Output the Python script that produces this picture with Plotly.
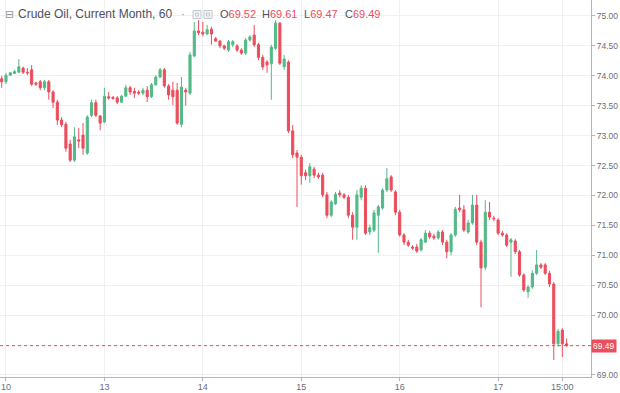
import plotly.graph_objects as go

# Hourly bars (index 0 = leftmost visible bar)
opens = [73.95, 73.90, 74.01, 74.04, 74.06, 74.13, 74.06, 74.10, 73.88, 73.90,
         73.80, 73.90, 73.73, 73.56, 73.26, 73.19, 72.86, 72.59, 72.93, 73.01,
         72.71, 73.34, 73.55, 73.33, 73.23, 73.65, 73.64, 73.63, 73.56, 73.66,
         73.80, 73.74, 73.73, 73.71, 73.76, 73.65, 73.85, 73.98, 74.10, 73.83,
         73.76, 73.76, 73.19, 73.76, 73.71, 74.33, 74.75, 74.73, 74.70, 74.78,
         74.62, 74.58, 74.50, 74.43, 74.52, 74.50, 74.43, 74.38, 74.60, 74.68,
         74.52, 74.31, 74.23, 74.20, 74.46, 74.88, 74.15, 74.23, 73.08, 72.71,
         72.64, 72.38, 72.33, 72.44, 72.34, 72.34, 72.01, 71.67, 71.86, 72.04,
         72.01, 71.97, 71.67, 71.47, 71.97, 72.12, 71.39, 71.42, 71.67, 71.79,
         72.09, 72.31, 72.06, 71.72, 71.34, 71.22, 71.14, 71.14, 71.09, 71.22,
         71.37, 71.32, 71.29, 71.39, 71.22, 71.06, 71.34, 71.79, 71.76, 71.39,
         71.54, 71.84, 71.22, 70.80, 71.72, 71.62, 71.59, 71.37, 71.34, 71.22,
         71.24, 71.06, 70.67, 70.39, 70.47, 70.70, 70.84, 70.84, 70.70, 70.52,
         69.52, 69.75, 69.52]
highs = [74.00, 74.05, 74.06, 74.10, 74.28, 74.15, 74.13, 74.18, 73.90, 73.93,
         73.93, 73.93, 73.76, 73.60, 73.31, 73.23, 72.93, 73.14, 73.13, 73.21,
         73.34, 73.60, 73.60, 73.34, 73.80, 73.73, 73.66, 73.66, 73.68, 73.85,
         73.83, 73.80, 73.76, 73.80, 73.83, 73.88, 74.01, 74.13, 74.13, 73.86,
         73.90, 73.88, 73.98, 73.80, 74.40, 74.90, 74.93, 74.90, 74.85, 74.82,
         74.65, 74.60, 74.52, 74.60, 74.60, 74.53, 74.46, 74.63, 74.68, 74.85,
         74.55, 74.35, 74.26, 74.52, 74.93, 74.90, 74.35, 74.26, 73.18, 72.76,
         72.68, 72.43, 72.54, 72.48, 72.38, 72.38, 72.06, 71.92, 72.06, 72.09,
         72.04, 72.01, 71.72, 72.09, 72.17, 72.17, 71.51, 71.76, 71.84, 72.12,
         72.46, 72.34, 72.09, 71.76, 71.37, 71.26, 71.17, 71.19, 71.29, 71.42,
         71.41, 71.36, 71.42, 71.42, 71.26, 71.37, 71.81, 72.01, 71.84, 71.59,
         72.01, 72.01, 71.26, 71.92, 71.89, 71.66, 71.62, 71.41, 71.37, 71.29,
         71.27, 71.09, 70.70, 70.50, 70.75, 71.09, 70.87, 70.87, 70.74, 70.55,
         69.77, 69.78, 69.61]
lows = [73.80, 73.86, 74.00, 74.03, 74.05, 74.03, 74.01, 73.83, 73.83, 73.76,
        73.76, 73.60, 73.46, 73.18, 73.14, 72.73, 72.56, 72.56, 72.79, 72.68,
        72.68, 73.31, 73.31, 73.09, 73.21, 73.60, 73.60, 73.53, 73.55, 73.65,
        73.68, 73.63, 73.68, 73.68, 73.56, 73.63, 73.83, 73.96, 73.80, 73.60,
        73.51, 73.18, 73.14, 73.50, 73.68, 74.31, 74.68, 74.66, 74.68, 74.52,
        74.57, 74.46, 74.43, 74.40, 74.48, 74.40, 74.35, 74.35, 74.57, 74.48,
        74.26, 74.10, 74.05, 73.60, 74.43, 74.18, 74.10, 73.04, 72.62, 71.81,
        72.18, 72.26, 72.21, 72.29, 72.28, 71.97, 71.62, 71.64, 71.84, 71.97,
        71.94, 71.62, 71.26, 71.26, 71.92, 71.34, 71.34, 71.39, 71.04, 71.76,
        72.06, 72.06, 71.67, 71.31, 71.17, 71.14, 71.09, 71.04, 71.06, 71.21,
        71.27, 71.26, 71.26, 71.17, 70.95, 71.00, 71.31, 71.72, 71.39, 71.36,
        71.51, 71.17, 70.13, 70.75, 71.59, 71.57, 71.34, 71.31, 71.14, 70.64,
        71.02, 70.64, 70.39, 70.29, 70.44, 70.67, 70.77, 70.67, 70.47, 69.25,
        69.47, 69.30, 69.47]
closes = [73.90, 74.01, 74.05, 74.07, 74.15, 74.06, 74.05, 73.86, 73.86, 73.80,
          73.90, 73.73, 73.56, 73.26, 73.18, 72.79, 72.59, 72.98, 72.91, 72.79,
          73.31, 73.55, 73.34, 73.21, 73.66, 73.63, 73.62, 73.56, 73.66, 73.80,
          73.73, 73.71, 73.71, 73.76, 73.65, 73.85, 73.98, 74.10, 73.83, 73.68,
          73.65, 73.21, 73.81, 73.73, 74.35, 74.75, 74.72, 74.70, 74.77, 74.70,
          74.58, 74.50, 74.46, 74.57, 74.57, 74.43, 74.38, 74.60, 74.65, 74.52,
          74.31, 74.15, 74.18, 74.48, 74.88, 74.21, 74.28, 73.08, 72.68, 72.64,
          72.33, 72.33, 72.48, 72.34, 72.31, 72.01, 71.67, 71.89, 72.02, 72.01,
          71.97, 71.67, 71.47, 72.01, 72.12, 71.37, 71.46, 71.71, 71.81, 72.09,
          72.28, 72.09, 71.72, 71.34, 71.22, 71.17, 71.12, 71.07, 71.26, 71.37,
          71.31, 71.29, 71.39, 71.22, 71.06, 71.34, 71.77, 71.76, 71.42, 71.54,
          71.84, 71.22, 70.79, 71.72, 71.64, 71.61, 71.37, 71.34, 71.17, 71.26,
          71.06, 70.67, 70.42, 70.47, 70.70, 70.84, 70.80, 70.70, 70.52, 69.52,
          69.73, 69.52, 69.49]

tick_positions = [1, 24, 47, 70, 93, 116, 131]
tick_labels = ["10", "13", "14", "15", "16", "17", "15:00"]
price_ticks = [69.0, 69.5, 70.0, 70.5, 71.0, 71.5, 72.0, 72.5, 73.0, 73.5, 74.0, 74.5, 75.0]
last_price = 69.49
header_ohlc = [("O", "69.52"), ("H", "69.61"), ("L", "69.47"), ("C", "69.49")]

GREEN = "#53b987"
RED = "#eb4d5c"
AXIS = "#b2b5be"
GRID = "#eef0f3"
TXT = "#6a6d78"

idx = list(range(len(opens)))

fig = go.Figure(go.Candlestick(
    x=idx, open=opens, high=highs, low=lows, close=closes,
    increasing=dict(line=dict(color=GREEN, width=1), fillcolor=GREEN),
    decreasing=dict(line=dict(color=RED, width=1), fillcolor=RED),
    whiskerwidth=0, hoverinfo="skip",
))

W, H = 620, 393
ml, mr, mt, mb = 0, 29, 0, 16
pw = W - ml - mr
ph = H - mt - mb

# the 69.50 label sits under the last-price badge, as in the reference
price_text = ["" if abs(v - 69.5) < 1e-9 else f"{v:.2f}" for v in price_ticks]

fig.update_layout(
    width=W, height=H,
    margin=dict(l=ml, r=mr, t=mt, b=mb),
    paper_bgcolor="white", plot_bgcolor="white",
    showlegend=False,
    font=dict(family="Liberation Sans", size=9, color=TXT),
    xaxis=dict(
        range=[-0.4, 137.7], rangeslider=dict(visible=False),
        tickvals=tick_positions, ticktext=tick_labels,
        showgrid=True, gridcolor=GRID, gridwidth=1, zeroline=False,
        showline=True, linecolor=AXIS, linewidth=1,
        ticks="outside", ticklen=3, tickcolor=AXIS,
        tickfont=dict(size=9, color=TXT), automargin=False,
        ticklabelstandoff=-2,
    ),
    yaxis=dict(
        side="right", range=[68.966, 75.267],
        tickvals=price_ticks, ticktext=price_text,
        showgrid=True, gridcolor=GRID, gridwidth=1, zeroline=False,
        showline=True, linecolor=AXIS, linewidth=1,
        ticks="outside", ticklen=3, tickcolor=AXIS,
        tickfont=dict(size=8.5, color=TXT), automargin=False,
    ),
)

# current price dotted line
fig.add_shape(type="line", xref="paper", x0=0, x1=1, yref="y", y0=last_price, y1=last_price,
              line=dict(color=RED, width=1, dash="dot"))
# price label on axis
fig.add_annotation(xref="paper", x=1, xanchor="left", yref="y", y=last_price, yanchor="middle",
                   text=f"{last_price:.2f}", showarrow=False, bgcolor=RED,
                   font=dict(color="white", size=8.5, family="Liberation Sans"), borderpad=1, xshift=0)

def px(xp):
    return (xp - ml) / pw

def py(yp):
    return 1 - (yp - mt) / ph

hy = 14.5
fig.add_annotation(xref="paper", yref="paper", x=px(3), y=py(hy), xanchor="left", yanchor="middle",
                   text="⊟", showarrow=False, font=dict(family="DejaVu Sans", size=11, color="#9598a1"))
fig.add_annotation(xref="paper", yref="paper", x=px(16), y=py(hy), xanchor="left", yanchor="middle",
                   text="Crude Oil, Current Month, 60", showarrow=False,
                   font=dict(family="Liberation Sans", size=12, color="#4c525e"))
fig.add_annotation(xref="paper", yref="paper", x=px(179), y=py(hy), xanchor="left", yanchor="middle",
                   text="·", showarrow=False, font=dict(family="Liberation Sans", size=12, color="#9598a1"))
for x0 in (193, 204):
    fig.add_shape(type="rect", xref="paper", yref="paper", x0=px(x0), x1=px(x0 + 8),
                  y0=py(hy + 4), y1=py(hy - 4), line=dict(color="#c5c8ce", width=1), fillcolor="#f2f3f5")
    fig.add_shape(type="rect", xref="paper", yref="paper", x0=px(x0 + 2.5), x1=px(x0 + 5.5),
                  y0=py(hy + 1.5), y1=py(hy - 1.5), line=dict(color="#c5c8ce", width=1), fillcolor="#f2f3f5")
for (lab, val), xs in zip(header_ohlc, (218, 260, 302, 343)):
    fig.add_annotation(xref="paper", yref="paper", x=px(xs), y=py(hy), xanchor="left", yanchor="middle",
                       text=f"<span style='color:#4c525e'>{lab}</span><span style='color:{RED}'>{val}</span>",
                       showarrow=False, font=dict(family="Liberation Sans", size=11))

fig.write_html("out.html",
               config={"displayModeBar": False},
               post_script="document.body.style.margin='0';document.body.style.overflow='hidden';")
